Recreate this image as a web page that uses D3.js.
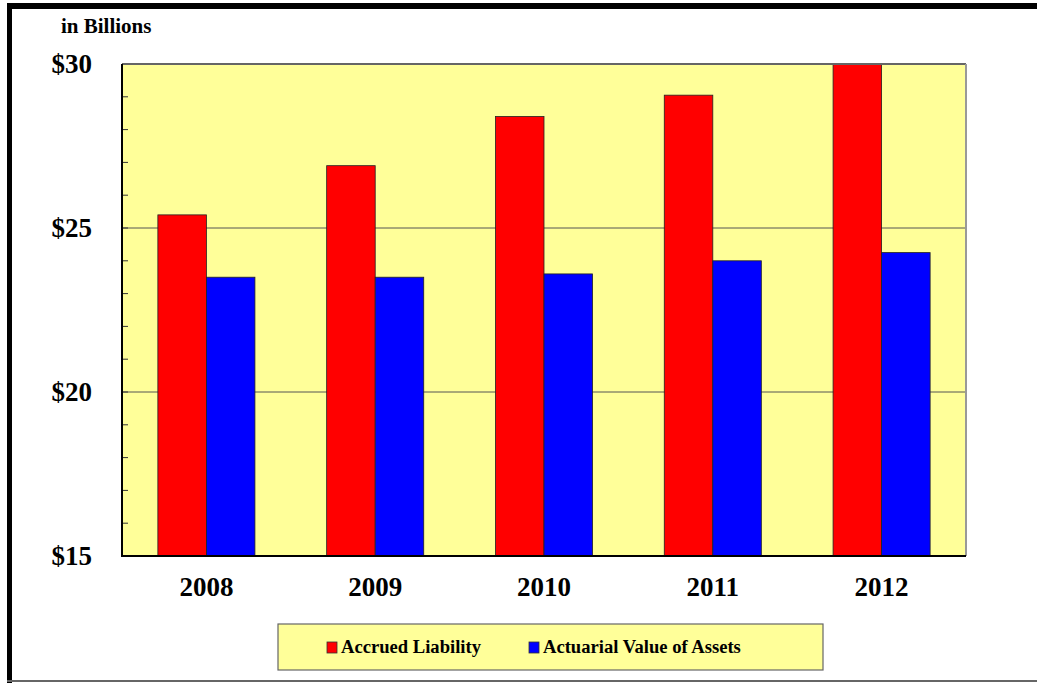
<!DOCTYPE html>
<html><head><meta charset="utf-8">
<script src="https://cdn.jsdelivr.net/npm/d3@7"></script>
<style>body{margin:0;background:#fff}svg{display:block}text{font-family:"Liberation Serif","Times New Roman",serif;font-weight:bold}</style>
</head><body>
<script>
const years = ["2008","2009","2010","2011","2012"];
const accruedLiability = [25.4, 26.9, 28.4, 29.05, 30.0];
const actuarialAssets = [23.5, 23.5, 23.6, 24.0, 24.25];
const seriesNames = ["Accrued Liability","Actuarial Value of Assets"];
const seriesColors = ["#FF0000","#0000FF"];
const yTicks = [15,20,25,30];
const yMinor = d3.range(15,31,1);

const W=1037,H=683;
const svg=d3.select("body").append("svg").attr("width",W).attr("height",H);
// outer frame
svg.append("rect").attr("x",7).attr("y",3).attr("width",W-7).attr("height",6).attr("fill","#000");
svg.append("rect").attr("x",7).attr("y",3).attr("width",5).attr("height",H-3).attr("fill","#000");
svg.append("rect").attr("x",7).attr("y",680).attr("width",W-7).attr("height",2).attr("fill","#666");

const L=122,R=966,T=64,B=556;
const x=d3.scaleBand().domain(years).range([L,R]).paddingInner(0.425).paddingOuter(0.2125);
const xs=d3.scaleBand().domain(seriesNames).range([0,x.bandwidth()]);
const y=d3.scaleLinear().domain([15,30]).range([B,T]);

svg.append("rect").attr("x",L).attr("y",T).attr("width",R-L).attr("height",B-T).attr("fill","#FFFF99");
// gridlines
svg.append("g").selectAll("line").data(yTicks.filter(d=>d>15&&d<30)).join("line")
 .attr("x1",L).attr("x2",R).attr("y1",d=>y(d)).attr("y2",d=>y(d)).attr("stroke","#555").attr("stroke-width",1);
// minor ticks inward
svg.append("g").selectAll("line").data(yMinor).join("line")
 .attr("x1",L).attr("x2",L+6).attr("y1",d=>y(d)).attr("y2",d=>y(d)).attr("stroke","#333").attr("stroke-width",1);

const data=years.map((yr,i)=>({yr,vals:[accruedLiability[i],actuarialAssets[i]]}));
const g=svg.append("g").selectAll("g").data(data).join("g").attr("transform",d=>`translate(${x(d.yr)},0)`);
g.selectAll("rect").data(d=>d.vals.map((v,j)=>({v,j}))).join("rect")
 .attr("x",d=>xs(seriesNames[d.j])).attr("width",xs.bandwidth())
 .attr("y",d=>y(d.v)).attr("height",d=>B-y(d.v))
 .attr("fill",d=>seriesColors[d.j]).attr("stroke","#222").attr("stroke-width",0.8);

// plot border
svg.append("line").attr("x1",L).attr("x2",R).attr("y1",T).attr("y2",T).attr("stroke","#666").attr("stroke-width",2);
svg.append("line").attr("x1",R).attr("x2",R).attr("y1",T).attr("y2",B).attr("stroke","#999").attr("stroke-width",2);
svg.append("line").attr("x1",L).attr("x2",L).attr("y1",T).attr("y2",B+1).attr("stroke","#000").attr("stroke-width",2);
svg.append("line").attr("x1",L-1).attr("x2",R).attr("y1",B).attr("y2",B).attr("stroke","#000").attr("stroke-width",2);

// y labels
svg.append("g").selectAll("text").data(yTicks).join("text")
 .attr("x",92).attr("y",d=>y(d)).attr("dy","0.35em").attr("text-anchor","end")
 .attr("font-size",27).text(d=>"$"+d);
svg.append("text").attr("x",61).attr("y",33).attr("font-size",21).text("in Billions");
// x labels
svg.append("g").selectAll("text").data(years).join("text")
 .attr("x",d=>x(d)+x.bandwidth()/2).attr("y",596).attr("text-anchor","middle")
 .attr("font-size",27).text(d=>d);

// legend
svg.append("rect").attr("x",278).attr("y",624).attr("width",545).attr("height",46)
 .attr("fill","#FFFF99").attr("stroke","#666").attr("stroke-width",1.2);
const legX=[327,529];
seriesNames.forEach((n,i)=>{
  svg.append("rect").attr("x",legX[i]).attr("y",642).attr("width",10).attr("height",11)
   .attr("fill",seriesColors[i]).attr("stroke","#333").attr("stroke-width",0.8);
  svg.append("text").attr("x",legX[i]+14).attr("y",653).attr("font-size",18.6).text(n);
});
</script>
</body></html>
